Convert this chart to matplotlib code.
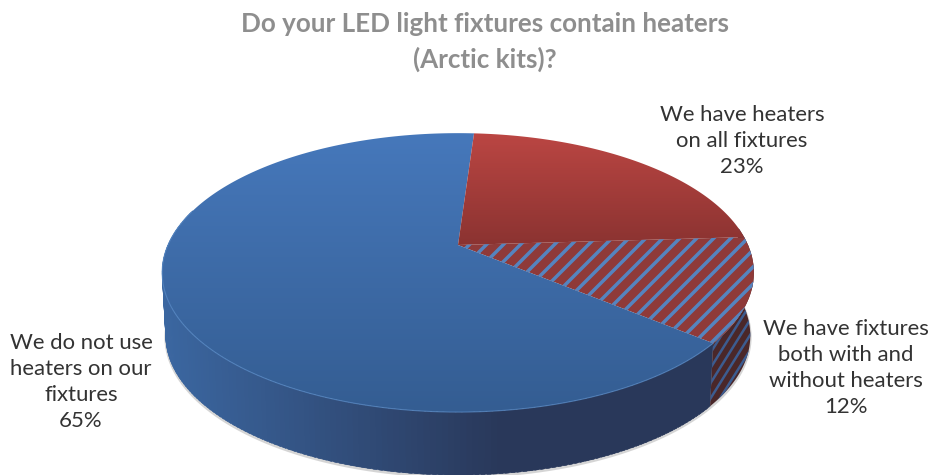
import numpy as np
import matplotlib
matplotlib.use("Agg")
import matplotlib.pyplot as plt
from matplotlib.patches import Polygon
from matplotlib.colors import LinearSegmentedColormap

# chart data
categories = ["We do not use\nheaters on our\nfixtures", "We have heaters\non all fixtures",
              "We have fixtures\nboth with and\nwithout heaters"]
values = [65, 23, 12]
title = "Do your LED light fixtures contain heaters\n(Arctic kits)?"

W, H = 931, 475
CX, CY = 458, 245      # pie vertex in pixels
A, B, K = 290, 134, 0.198   # perspective of the disc
DEPTH = 63
START = 3.8            # degrees clockwise from the back of the pie


def project(theta, r=1.0, depth=0.0):
    # theta in degrees, clockwise from top
    t = np.radians(theta)
    u = r * np.sin(t)
    v = r * np.cos(t)
    w = 1 + K * v
    shrink = 1 - 0.012 * depth / DEPTH
    return CX + A * u / w * shrink, CY - B * v / w + depth


def wedge_poly(a0, a1, depth=0.0):
    th = np.linspace(a0, a1, 200)
    x, y = project(th, depth=depth)
    return np.vstack([[CX, CY + depth], np.column_stack([x, y])])


def side_poly(a0, a1):
    th = np.linspace(a0, a1, 100)
    x0, y0 = project(th)
    x1, y1 = project(th[::-1], depth=DEPTH)
    return np.column_stack([np.r_[x0, x1], np.r_[y0, y1]])


def stripes(ax, patch, color, lw, step=17.0, steep=1.0):
    # diagonal hatch, clipped to the patch
    for off in np.arange(0, 1600, step):
        line, = ax.plot([off, off - 500 / steep], [0, 500], color=color, lw=lw,
                        solid_capstyle="butt", zorder=patch.get_zorder() + 0.1)
        line.set_clip_path(patch)


def gradient(ax, patch, top_col, bot_col, y0, y1):
    cmap = LinearSegmentedColormap.from_list("g", [top_col, bot_col])
    im = ax.imshow(np.linspace(0, 1, 256).reshape(-1, 1), cmap=cmap, aspect="auto",
                   extent=(0, W, y1, y0), zorder=patch.get_zorder())
    im.set_clip_path(patch)


fig = plt.figure(figsize=(W / 100, H / 100), dpi=100)
ax = fig.add_axes([0, 0, 1, 1])

# wedge angles from the values, running clockwise; red, hatched, then blue
share = np.array(values, dtype=float) / sum(values) * 360
red0 = START
red1 = red0 + share[1]
hat1 = red1 + share[2]
blue1 = hat1 + share[0]

# soft shadow below the side wall
th = np.linspace(60, 300, 300)
sx, sy = project(th, depth=DEPTH + 1.5)
ax.plot(sx, sy, color="#c4c4c4", lw=2.0, alpha=0.7, zorder=1)

# side wall of the blue wedge, shaded along x
side_left = (np.array([0x3b, 0x67, 0xa1]) / 255)
side_dark = (np.array([0x29, 0x38, 0x5a]) / 255)
th = np.linspace(hat1, 285, 160)
for a, b in zip(th[:-1], th[1:]):
    x_mid, _ = project((a + b) / 2)
    f = np.clip((x_mid - 161) / 340, 0, 1)
    col = side_left * (1 - f) + side_dark * f
    ax.add_patch(Polygon(side_poly(a, b + 0.6), closed=True, fc=col, ec=col, lw=0.3, zorder=2))

# side wall of the hatched wedge
side_hat = Polygon(side_poly(red1 - 4, hat1), closed=True, fc="#4a2729", ec="none", zorder=2)
ax.add_patch(side_hat)
stripes(ax, side_hat, "#3c5c90", 1.8, step=9.5, steep=1.6)

# top faces
blue = Polygon(wedge_poly(hat1, blue1), closed=True, fc="none", ec="none", zorder=3)
red = Polygon(wedge_poly(red0, red1), closed=True, fc="none", ec="none", zorder=3)
hat = Polygon(wedge_poly(red1, hat1), closed=True, fc="#8f3a39", ec="none", zorder=3)
for p in (blue, red, hat):
    ax.add_patch(p)
gradient(ax, blue, "#4678bb", "#345d92", 133, 412)
gradient(ax, red, "#bb4643", "#8b3331", 133, 245)
stripes(ax, hat, "#5584bf", 2.5)

# light rim on the front edge
rx, ry = project(np.linspace(hat1, 285, 200))
ax.plot(rx, ry, color="#5a8cc8", lw=0.8, alpha=0.7, zorder=4)

# labels
ax.text(485, 42, title, ha="center", va="center", color="#8e8e8e", family="Lato",
        fontweight="bold", fontsize=18.7, linespacing=1.52)
lab_color = "#333333"
ax.text(81, 382, categories[0] + "\n%d%%" % values[0], ha="center", va="center", color=lab_color,
        family="Lato", fontsize=15.9, linespacing=1.37)
ax.text(742, 141, categories[1] + "\n%d%%" % values[1], ha="center", va="center", color=lab_color,
        family="Lato", fontsize=15.9, linespacing=1.37)
ax.text(846, 368, categories[2] + "\n%d%%" % values[2], ha="center", va="center", color=lab_color,
        family="Lato", fontsize=15.9, linespacing=1.37)

ax.set_xlim(0, W)
ax.set_ylim(H, 0)
ax.axis("off")
fig.savefig("out.png", dpi=100, facecolor="white")
